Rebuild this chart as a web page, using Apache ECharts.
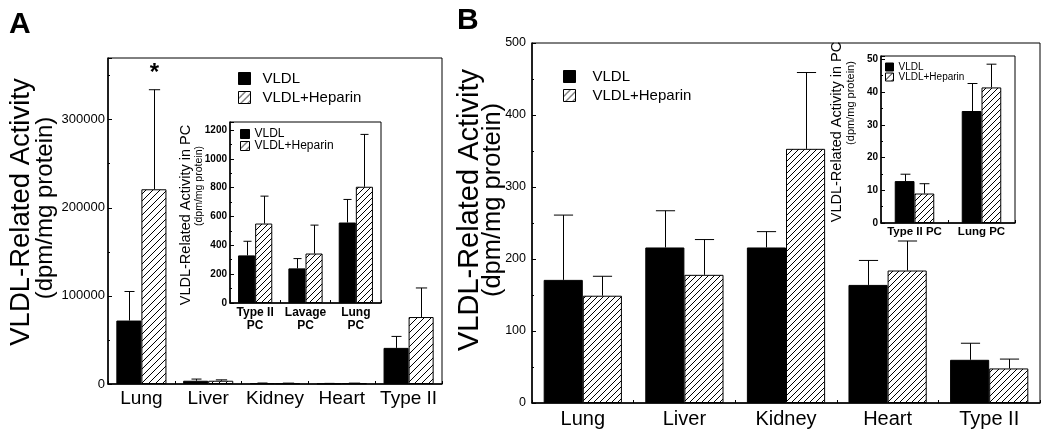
<!DOCTYPE html>
<html><head><meta charset="utf-8">
<script src="https://cdn.jsdelivr.net/npm/echarts@6/dist/echarts.min.js"></script>
<style>html,body{margin:0;padding:0;background:#fff}#c{width:1050px;height:435px}</style>
</head><body><div id="c"></div>
<script>
// ---------- Panel A (main) ----------
const catsA = ['Lung', 'Liver', 'Kidney', 'Heart', 'Type II'];
const vldlA = [72000, 3700, 800, 500, 41000];
const vldlA_sd = [33000, 1900, 300, 200, 13000];
const hepA = [221000, 3700, 700, 800, 76000];
const hepA_sd = [113000, 1000, 300, 200, 33000];
const sigHepA = ['*', '', '', '', ''];
const yTicksA = [0, 100000, 200000, 300000];
// ---------- Panel A (inset) ----------
const catsAi = ['Type II\nPC', 'Lavage\nPC', 'Lung\nPC'];
const vldlAi = [330, 240, 558];
const vldlAi_sd = [98, 68, 160];
const hepAi = [551, 343, 806];
const hepAi_sd = [190, 197, 363];
const yTicksAi = [0, 200, 400, 600, 800, 1000, 1200];
// ---------- Panel B (main) ----------
const catsB = ['Lung', 'Liver', 'Kidney', 'Heart', 'Type II'];
const vldlB = [171, 216, 216, 164, 60];
const vldlB_sd = [90, 51, 22, 34, 23];
const hepB = [149, 178, 353, 184, 48];
const hepB_sd = [27, 49, 106, 41, 13];
const yTicksB = [0, 100, 200, 300, 400, 500];
// ---------- Panel B (inset) ----------
const catsBi = ['Type II PC', 'Lung PC'];
const vldlBi = [12.8, 34.2];
const vldlBi_sd = [2.1, 8.4];
const hepBi = [9.0, 41.4];
const hepBi_sd = [3.0, 7.1];
const yTicksBi = [0, 10, 20, 30, 40, 50];

const FF = '"Liberation Sans", Arial, sans-serif';

function hatch(s) {
  const c = document.createElement('canvas');
  c.width = c.height = s;
  const g = c.getContext('2d');
  g.fillStyle = '#fff'; g.fillRect(0, 0, s, s);
  g.strokeStyle = '#000'; g.lineWidth = 1;
  g.beginPath();
  g.moveTo(0, s); g.lineTo(s, 0);
  g.moveTo(-s / 2, s / 2); g.lineTo(s / 2, -s / 2);
  g.moveTo(s / 2, s * 1.5); g.lineTo(s * 1.5, s / 2);
  g.stroke();
  return { image: c, repeat: 'repeat' };
}

function xAx(gi, data, fs, margin, bold, lh) {
  return {
    type: 'category', gridIndex: gi, data: data,
    axisLine: { lineStyle: { color: '#000', width: 1.5 } },
    axisTick: { show: true, inside: true, length: 3, lineStyle: { color: '#000' } },
    axisLabel: { color: '#000', fontSize: fs, margin: margin, fontWeight: bold ? 'bold' : 'normal',
      lineHeight: lh, interval: 0, fontFamily: FF },
    splitLine: { show: false }
  };
}
function yAx(gi, max, interval, ticks, fs, margin, bold) {
  return {
    type: 'value', gridIndex: gi, min: 0, max: max, interval: interval,
    axisLine: { show: true, lineStyle: { color: '#000', width: 1.5 } },
    axisTick: { show: true, inside: true, length: 4, lineStyle: { color: '#000' } },
    minorTick: { show: true, splitNumber: 2, length: 2, lineStyle: { color: '#000' } },
    splitLine: { show: false },
    axisLabel: { color: '#000', fontSize: fs, margin: margin, fontWeight: bold ? 'bold' : 'normal',
      fontFamily: FF, showMaxLabel: true,
      formatter: function (v) { return ticks.indexOf(v) >= 0 ? String(v) : ''; } }
  };
}
function bars(gi, v, h, gap, hs) {
  return [
    { type: 'bar', name: 'VLDL', xAxisIndex: gi, yAxisIndex: gi, data: v, barGap: '0%',
      barCategoryGap: gap + '%', itemStyle: { color: '#000', borderColor: '#000', borderWidth: 1 } },
    { type: 'bar', name: 'VLDL+Heparin', xAxisIndex: gi, yAxisIndex: gi, data: h, barGap: '0%',
      barCategoryGap: gap + '%', itemStyle: { color: hatch(hs), borderColor: '#000', borderWidth: 1 } }
  ];
}
function errs(gi, vals, sds, gap, side, capFrac, sig, sigSize) {
  return {
    type: 'custom', xAxisIndex: gi, yAxisIndex: gi, z: 5, silent: true,
    data: vals.map(function (v, i) { return [i, v, sds[i]]; }),
    renderItem: function (params, api) {
      const i = api.value(0), v = api.value(1), sd = api.value(2);
      const b = api.coord([i, v]);
      const t = api.coord([i, v + sd]);
      const band = api.size([1, 0])[0];
      const bw = band * (1 - gap / 100) / 2;
      const x = Math.round(b[0] + side * bw / 2) + 0.5;
      const cap = bw * capFrac;
      const ch = [
        { type: 'line', shape: { x1: x, y1: b[1], x2: x, y2: t[1] }, style: { stroke: '#000', lineWidth: 1 } },
        { type: 'line', shape: { x1: x - cap / 2, y1: t[1], x2: x + cap / 2, y2: t[1] }, style: { stroke: '#000', lineWidth: 1 } }
      ];
      if (sig && sig[i]) {
        ch.push({ type: 'text', style: { text: sig[i], x: x, y: t[1] - 4, align: 'center',
          verticalAlign: 'bottom', font: 'bold ' + sigSize + 'px ' + FF, fill: '#000' } });
      }
      return { type: 'group', children: ch };
    }
  };
}
function leg(left, top, size, gap, fs, pad) {
  return {
    left: left, top: top, orient: 'vertical', itemWidth: size, itemHeight: size, itemGap: gap,
    padding: 0,
    data: ['VLDL', 'VLDL+Heparin'], icon: 'rect', selectedMode: false,
    itemStyle: { borderColor: '#000', borderWidth: 1 },
    textStyle: { color: '#000', fontSize: fs, fontFamily: FF, lineHeight: size, padding: [0, 0, 0, pad] }
  };
}
function vtext(x, y, txt, fs, bold) {
  return { type: 'text', x: x, y: y, rotation: Math.PI / 2,
    style: { text: txt, font: (bold ? 'bold ' : '') + fs + 'px ' + FF, align: 'center', verticalAlign: 'middle', fill: '#000' } };
}

const gapA = 25, gapAi = 32, gapB = 23, gapBi = 41;

const option = {
  animation: false,
  backgroundColor: '#fff',
  grid: [
    { left: 108, top: 58, right: 608, bottom: 51, show: true, borderColor: '#000', borderWidth: 1, outerBoundsMode: 'none' },
    { left: 230, top: 122, right: 669, bottom: 132, show: true, borderColor: '#000', borderWidth: 1, backgroundColor: '#fff', outerBoundsMode: 'none' },
    { left: 532, top: 43, right: 10, bottom: 32, show: true, borderColor: '#000', borderWidth: 1, outerBoundsMode: 'none' },
    { left: 881, top: 56, right: 35, bottom: 212, show: true, borderColor: '#000', borderWidth: 1, backgroundColor: '#fff', outerBoundsMode: 'none' }
  ],
  xAxis: [
    xAx(0, catsA, 19, 5, false, 20),
    xAx(1, catsAi, 12, 3, true, 13),
    xAx(2, catsB, 20, 5, false, 22),
    xAx(3, catsBi, 11.5, 2, true, 13)
  ],
  yAxis: [
    yAx(0, 370000, 100000, yTicksA, 13, 3, false),
    yAx(1, 1255, 200, yTicksAi, 10, 3, true),
    yAx(2, 500, 100, yTicksB, 12.5, 6, false),
    yAx(3, 51, 10, yTicksBi, 10, 3, true)
  ],
  legend: [
    leg(238, 71, 12, 4, 15, 7),
    leg(240, 128, 9, 0, 12, 0),
    leg(563, 69, 12, 4, 15, 12),
    leg(885, 62, 8, 0, 10, 0)
  ],
  series: [].concat(
    bars(0, vldlA, hepA, gapA, 7),
    bars(1, vldlAi, hepAi, gapAi, 6),
    bars(2, vldlB, hepB, gapB, 6),
    bars(3, vldlBi, hepBi, gapBi, 6),
    [
      errs(0, vldlA, vldlA_sd, gapA, -1, 0.4),
      errs(0, hepA, hepA_sd, gapA, 1, 0.45, sigHepA, 24),
      errs(1, vldlAi, vldlAi_sd, gapAi, -1, 0.47),
      errs(1, hepAi, hepAi_sd, gapAi, 1, 0.47),
      errs(2, vldlB, vldlB_sd, gapB, -1, 0.49),
      errs(2, hepB, hepB_sd, gapB, 1, 0.49),
      errs(3, vldlBi, vldlBi_sd, gapBi, -1, 0.5),
      errs(3, hepBi, hepBi_sd, gapBi, 1, 0.5)
    ]
  ),
  graphic: [
    { type: 'text', x: 9, y: 25, style: { text: 'A', font: 'bold 30px ' + FF, verticalAlign: 'middle', fill: '#000' } },
    { type: 'text', x: 457, y: 21, style: { text: 'B', font: 'bold 30px ' + FF, verticalAlign: 'middle', fill: '#000' } },
    vtext(21, 212, 'VLDL-Related Activity', 27.5),
    vtext(45, 208, '(dpm/mg protein)', 24),
    vtext(470, 210, 'VLDL-Related Activity', 29),
    vtext(493, 200, '(dpm/mg protein)', 25.5),
    vtext(186, 215, 'VLDL-Related Activity in PC', 14.5),
    vtext(199, 186, '(dpm/mg protein)', 10.5),
    vtext(837, 132, 'VLDL-Related Activity in PC', 14.5),
    vtext(851, 103, '(dpm/mg protein)', 11)
  ]
};
const chart = echarts.init(document.getElementById('c'), null, { renderer: 'canvas' });
chart.setOption(option);
</script>
</body></html>
